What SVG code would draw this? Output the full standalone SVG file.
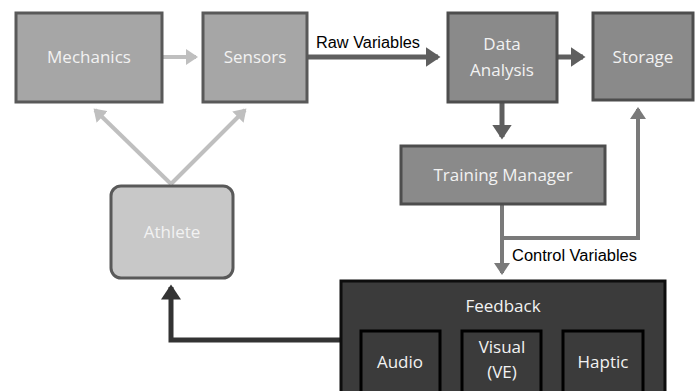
<svg xmlns="http://www.w3.org/2000/svg" width="699" height="391" viewBox="0 0 699 391">
<defs>
<style>
.nt{font-family:"Open Sans","Noto Sans",sans-serif;font-size:17px;text-anchor:middle;fill:#f2f2f2}
.lb{font-family:"Liberation Sans",Arial,sans-serif;font-size:16px;fill:#000}
</style>
<marker id="aL" markerWidth="4" markerHeight="4" refX="2.5" refY="2" orient="auto" markerUnits="strokeWidth"><path d="M0,0 L3,2 L0,4 z" fill="#bfbfbf"/></marker>
<marker id="aM" markerWidth="4" markerHeight="4" refX="2.5" refY="2" orient="auto" markerUnits="strokeWidth"><path d="M0,0 L3,2 L0,4 z" fill="#5f5f5f"/></marker>
<marker id="aD" markerWidth="4" markerHeight="4" refX="2.5" refY="2" orient="auto" markerUnits="strokeWidth"><path d="M0,0 L3,2 L0,4 z" fill="#333"/></marker>
<marker id="aG" markerWidth="4" markerHeight="4" refX="2.5" refY="2" orient="auto" markerUnits="strokeWidth"><path d="M0,0 L3,2 L0,4 z" fill="#7a7a7a"/></marker>
</defs>
<rect width="699" height="391" fill="#fff"/>
<g id="connectors" fill="none">
<line x1="162" y1="57" x2="196" y2="57" stroke="#bfbfbf" stroke-width="4" marker-end="url(#aL)"/>
<line x1="171" y1="184" x2="95" y2="110" stroke="#bfbfbf" stroke-width="4" marker-end="url(#aL)"/>
<line x1="171" y1="184" x2="245" y2="110" stroke="#bfbfbf" stroke-width="4" marker-end="url(#aL)"/>
<line x1="307" y1="57" x2="438" y2="57" stroke="#5f5f5f" stroke-width="5" marker-end="url(#aM)"/>
<line x1="557" y1="57" x2="583" y2="57" stroke="#5f5f5f" stroke-width="5" marker-end="url(#aM)"/>
<line x1="502" y1="103" x2="502" y2="137" stroke="#5f5f5f" stroke-width="5" marker-end="url(#aM)"/>
<line x1="502" y1="205" x2="502" y2="273" stroke="#7a7a7a" stroke-width="4" marker-end="url(#aG)"/>
<polyline points="502,238 638,238 638,109" stroke="#7a7a7a" stroke-width="4" marker-end="url(#aG)"/>
<polyline points="340,340 171,340 171,287" stroke="#333" stroke-width="5" marker-end="url(#aD)"/>
<text class="lb" x="316" y="48" textLength="104" lengthAdjust="spacingAndGlyphs">Raw Variables</text>
<text class="lb" x="512" y="261" textLength="125" lengthAdjust="spacingAndGlyphs">Control Variables</text>
</g>
<g id="mechanics"><rect x="16" y="13" width="146" height="89" fill="#a6a6a6" stroke="#595959" stroke-width="3"/><text class="nt" x="89" y="63">Mechanics</text></g>
<g id="sensors"><rect x="203" y="13" width="104" height="89" fill="#a6a6a6" stroke="#595959" stroke-width="3"/><text class="nt" x="255" y="63">Sensors</text></g>
<g id="data-analysis"><rect x="448" y="13" width="109" height="89" fill="#8a8a8a" stroke="#4d4d4d" stroke-width="3"/><text class="nt" x="502" y="50">Data</text><text class="nt" x="502" y="76">Analysis</text></g>
<g id="storage"><rect x="593" y="13" width="100" height="87" fill="#8a8a8a" stroke="#4d4d4d" stroke-width="3"/><text class="nt" x="643" y="63">Storage</text></g>
<g id="training-manager"><rect x="401" y="146" width="204" height="58" fill="#8a8a8a" stroke="#4d4d4d" stroke-width="3"/><text class="nt" x="503" y="181">Training Manager</text></g>
<g id="athlete"><rect x="111" y="186" width="122" height="92" rx="10" fill="#c8c8c8" stroke="#595959" stroke-width="3"/><text class="nt" x="172" y="238">Athlete</text></g>
<g id="feedback"><rect x="341" y="281" width="324" height="115" fill="#3b3b3b" stroke="#0d0d0d" stroke-width="3"/><text class="nt" x="503" y="312">Feedback</text></g>
<g id="audio"><rect x="361" y="331" width="79" height="65" fill="#3b3b3b" stroke="#000" stroke-width="3"/><text class="nt" x="400" y="368">Audio</text></g>
<g id="visual"><rect x="462" y="331" width="79" height="65" fill="#3b3b3b" stroke="#000" stroke-width="3"/><text class="nt" x="502" y="353">Visual</text><text class="nt" x="502" y="378">(VE)</text></g>
<g id="haptic"><rect x="563" y="331" width="80" height="65" fill="#3b3b3b" stroke="#000" stroke-width="3"/><text class="nt" x="603" y="368">Haptic</text></g>
</svg>
